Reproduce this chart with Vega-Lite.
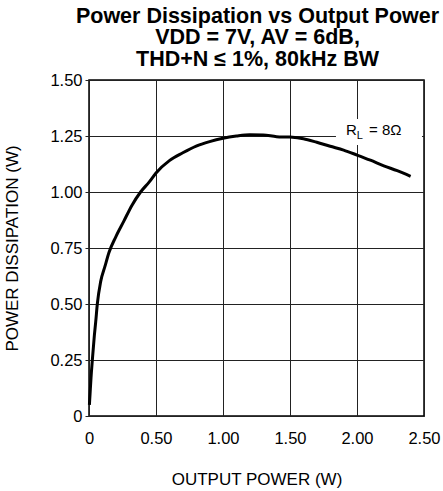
{
  "$schema": "https://vega.github.io/schema/vega-lite/v6.json",
  "autosize": {"type": "fit", "contains": "padding"},
  "width": 443,
  "height": 491,
  "padding": {"left": 3, "top": 5, "right": 2, "bottom": 3},
  "background": "white",
  "title": {
    "text": ["Power Dissipation vs Output Power", "VDD = 7V, AV = 6dB,", "THD+N ≤ 1%, 80kHz BW"],
    "font": "Liberation Sans",
    "fontSize": 21.5,
    "fontWeight": "bold",
    "color": "black",
    "lineHeight": 21.5,
    "anchor": "middle",
    "frame": "group",
    "dx": 1,
    "offset": 2
  },
  "config": {
    "view": {"stroke": "black", "strokeWidth": 1.5},
    "axis": {
      "domain": false,
      "grid": true,
      "labelFlush": false,
      "gridColor": "#222",
      "gridWidth": 1,
      "gridOpacity": 1,
      "tickColor": "#222",
      "labelFont": "Liberation Sans",
      "labelFontSize": 16.5,
      "labelColor": "black",
      "titleFont": "Liberation Sans",
      "titleFontSize": 17,
      "titleFontWeight": "normal",
      "titleColor": "black"
    }
  },
  "datasets": {
    "curve": [
      {"p": 0.003, "d": 0.05}, {"p": 0.008, "d": 0.1}, {"p": 0.015, "d": 0.17}, {"p": 0.025, "d": 0.25},
      {"p": 0.04, "d": 0.36}, {"p": 0.05, "d": 0.42}, {"p": 0.062, "d": 0.5}, {"p": 0.087, "d": 0.6},
      {"p": 0.12, "d": 0.67}, {"p": 0.149, "d": 0.73}, {"p": 0.2, "d": 0.8}, {"p": 0.26, "d": 0.87},
      {"p": 0.32, "d": 0.94}, {"p": 0.385, "d": 1.0}, {"p": 0.45, "d": 1.045}, {"p": 0.5, "d": 1.085},
      {"p": 0.6, "d": 1.14}, {"p": 0.7, "d": 1.175}, {"p": 0.8, "d": 1.205}, {"p": 0.9, "d": 1.225},
      {"p": 1.0, "d": 1.24}, {"p": 1.1, "d": 1.25}, {"p": 1.2, "d": 1.256}, {"p": 1.3, "d": 1.255},
      {"p": 1.4, "d": 1.247}, {"p": 1.5, "d": 1.245}, {"p": 1.6, "d": 1.238}, {"p": 1.7, "d": 1.222},
      {"p": 1.8, "d": 1.204}, {"p": 1.9, "d": 1.187}, {"p": 2.0, "d": 1.165}, {"p": 2.1, "d": 1.142},
      {"p": 2.2, "d": 1.117}, {"p": 2.3, "d": 1.095}, {"p": 2.4, "d": 1.07}
    ],
    "box": [{"x1": 1.843, "x2": 2.485, "y1": 1.21, "y2": 1.326}],
    "labels": [
      {"p": 1.918, "d": 1.277, "t": "R", "kind": "main"},
      {"p": 1.998, "d": 1.277, "t": "L", "kind": "sub"},
      {"p": 2.09, "d": 1.277, "t": "= 8Ω", "kind": "main"}
    ]
  },
  "layer": [
    {
      "data": {"name": "box"},
      "mark": {"type": "rect", "fill": "white"},
      "encoding": {
        "x": {"field": "x1", "type": "quantitative", "scale": {"domain": [0, 2.5], "nice": false, "zero": false},
          "axis": {"values": [0, 0.5, 1, 1.5, 2, 2.5], "ticks": false, "labelExpr": "datum.value == 0 ? '0' : format(datum.value, '.2f')", "labelPadding": 14, "title": "OUTPUT POWER (W)", "titlePadding": 25}},
        "x2": {"field": "x2"},
        "y": {"field": "y1", "type": "quantitative", "scale": {"domain": [0, 1.5], "nice": false, "zero": false},
          "axis": {"values": [0, 0.25, 0.5, 0.75, 1, 1.25, 1.5], "ticks": true, "tickSize": 4, "labelExpr": "datum.value == 0 ? '0' : format(datum.value, '.2f')", "labelPadding": 3, "title": "POWER DISSIPATION (W)", "titlePadding": 28}},
        "y2": {"field": "y2"}
      }
    },
    {
      "data": {"name": "curve"},
      "mark": {"type": "line", "color": "black", "strokeWidth": 3, "interpolate": "monotone"},
      "encoding": {
        "x": {"field": "p", "type": "quantitative"},
        "y": {"field": "d", "type": "quantitative"}
      }
    },
    {
      "data": {"name": "labels"},
      "transform": [{"filter": "datum.kind == 'main'"}],
      "mark": {"type": "text", "font": "Liberation Sans", "fontSize": 15, "align": "left", "baseline": "middle", "color": "black"},
      "encoding": {
        "x": {"field": "p", "type": "quantitative"},
        "y": {"field": "d", "type": "quantitative"},
        "text": {"field": "t"}
      }
    },
    {
      "data": {"name": "labels"},
      "transform": [{"filter": "datum.kind == 'sub'"}],
      "mark": {"type": "text", "font": "Liberation Sans", "fontSize": 11, "align": "left", "baseline": "middle", "dy": 6, "color": "black"},
      "encoding": {
        "x": {"field": "p", "type": "quantitative"},
        "y": {"field": "d", "type": "quantitative"},
        "text": {"field": "t"}
      }
    }
  ]
}
